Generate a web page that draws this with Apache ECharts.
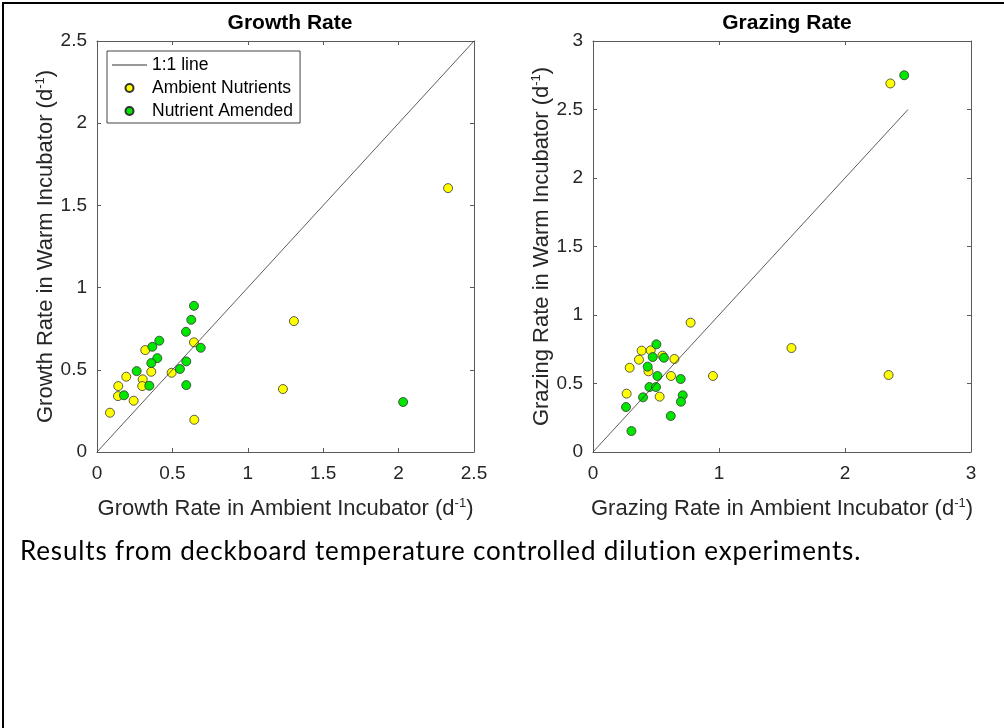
<!DOCTYPE html>
<html>
<head>
<meta charset="utf-8">
<title>Growth and grazing rates</title>
<script src="https://cdn.jsdelivr.net/npm/echarts@6/dist/echarts.min.js"></script>
<style>
  html, body { margin: 0; padding: 0; background: #fff; }
  #wrap { position: relative; width: 1004px; height: 728px; overflow: hidden; }
  #frame {
    position: absolute; left: 2px; top: 2px; width: 1100px; height: 800px;
    border-left: 2px solid #000; border-top: 2px solid #000;
  }
  #chart { position: absolute; left: 0; top: 0; width: 1004px; height: 728px; }
  #caption {
    position: absolute; left: 20px; top: 534px;
    font-family: Lato, "Open Sans", sans-serif; font-size: 26px; color: #000;
    letter-spacing: 0.85px; white-space: nowrap;
  }
</style>
</head>
<body>
<div id="wrap">
  <div id="frame"></div>
  <div id="chart"></div>
  <div id="caption">Results from deckboard temperature controlled dilution experiments.</div>
</div>
<script>
// 生长率 (left panel): [ambient incubator, warm incubator]
const growthAmbient = [
  [0.320, 0.620], [0.643, 0.667], [0.360, 0.488], [0.495, 0.482], [0.194, 0.458],
  [0.303, 0.442], [0.141, 0.401], [0.300, 0.401], [0.139, 0.340], [0.243, 0.312],
  [0.086, 0.239], [0.645, 0.196], [1.306, 0.796], [1.233, 0.383], [2.328, 1.605]
];
const growthAmended = [
  [0.643, 0.889], [0.625, 0.804], [0.590, 0.731], [0.413, 0.677], [0.367, 0.640],
  [0.688, 0.634], [0.400, 0.571], [0.360, 0.541], [0.592, 0.551], [0.263, 0.492],
  [0.550, 0.505], [0.347, 0.403], [0.592, 0.407], [0.179, 0.345], [2.030, 0.304]
];
// 摄食率 (right panel)
const grazingAmbient = [
  [0.775, 0.944], [0.386, 0.740], [0.458, 0.742], [0.551, 0.703], [0.365, 0.674],
  [0.646, 0.679], [0.291, 0.615], [0.440, 0.589], [0.619, 0.555], [0.952, 0.555],
  [0.267, 0.426], [0.529, 0.404], [1.575, 0.759], [2.346, 0.562], [2.360, 2.690]
];
const grazingAmended = [
  [0.503, 0.786], [0.474, 0.693], [0.563, 0.688], [0.434, 0.623], [0.511, 0.555],
  [0.696, 0.533], [0.448, 0.474], [0.500, 0.474], [0.397, 0.399], [0.712, 0.414],
  [0.698, 0.367], [0.262, 0.328], [0.617, 0.263], [0.305, 0.153], [2.470, 2.750]
];
const oneToOne = [[0, 0], [2.5, 2.5]];

const growthTicks = { min: 0, max: 2.5, interval: 0.5 };
const grazingTicksX = { min: 0, max: 3, interval: 1 };
const grazingTicksY = { min: 0, max: 3, interval: 0.5 };

const FONT = '"Liberation Sans", Arial, sans-serif';
const INK = '#262626';
const AXIS = '#5a5a5a';

const supRich = {
  sup: { fontSize: 13, verticalAlign: 'top', padding: [0, 0, 10, 0], color: INK, fontFamily: FONT }
};

function xAx(grid, t, name) {
  return [{
    type: 'value', gridIndex: grid, position: 'bottom',
    min: t.min, max: t.max, interval: t.interval,
    axisLine: { show: true, onZero: false, lineStyle: { color: AXIS, width: 1 } },
    axisTick: { show: true, inside: true, length: 4, lineStyle: { color: AXIS } },
    splitLine: { show: false },
    axisLabel: { color: INK, fontSize: 19, fontFamily: FONT, margin: 12 },
    name: name, nameLocation: 'middle', nameGap: 45,
    nameTextStyle: { color: INK, fontSize: 22, fontFamily: FONT, rich: supRich }
  }, {
    type: 'value', gridIndex: grid, position: 'top',
    min: t.min, max: t.max, interval: t.interval,
    axisLine: { show: true, onZero: false, lineStyle: { color: AXIS, width: 1 } },
    axisTick: { show: true, inside: true, length: 4, lineStyle: { color: AXIS } },
    axisLabel: { show: false }, splitLine: { show: false }
  }];
}

function yAx(grid, t, name) {
  return [{
    type: 'value', gridIndex: grid, position: 'left',
    min: t.min, max: t.max, interval: t.interval,
    axisLine: { show: true, onZero: false, lineStyle: { color: AXIS, width: 1 } },
    axisTick: { show: true, inside: true, length: 4, lineStyle: { color: AXIS } },
    splitLine: { show: false },
    axisLabel: { color: INK, fontSize: 19, fontFamily: FONT, margin: 10 },
    name: name, nameLocation: 'middle', nameGap: 38,
    nameTextStyle: { color: INK, fontSize: 22, fontFamily: FONT, rich: supRich }
  }, {
    type: 'value', gridIndex: grid, position: 'right',
    min: t.min, max: t.max, interval: t.interval,
    axisLine: { show: true, onZero: false, lineStyle: { color: AXIS, width: 1 } },
    axisTick: { show: true, inside: true, length: 4, lineStyle: { color: AXIS } },
    axisLabel: { show: false }, splitLine: { show: false }
  }];
}

const dot = (color) => ({
  color: color, borderColor: '#333', borderWidth: 0.8, opacity: 1
});

const chart = echarts.init(document.getElementById('chart'), null, { renderer: 'canvas' });
chart.setOption({
  animation: false,
  backgroundColor: 'transparent',
  title: [
    { text: 'Growth Rate', left: 285, top: 8, textAlign: 'center',
      textStyle: { fontSize: 21, fontWeight: 'bold', color: '#000', fontFamily: FONT } },
    { text: 'Grazing Rate', left: 782, top: 8, textAlign: 'center',
      textStyle: { fontSize: 21, fontWeight: 'bold', color: '#000', fontFamily: FONT } }
  ],
  legend: {
    left: 107, top: 51, orient: 'vertical',
    padding: [5, 7, 3, 5], itemGap: 5,
    itemWidth: 35, itemHeight: 8,
    borderColor: '#444', borderWidth: 1, backgroundColor: '#fff',
    textStyle: { fontSize: 17.5, color: '#000', fontFamily: FONT },
    data: [
      { name: '1:1 line', icon: 'path://M0 0H37V1H0Z' },
      { name: 'Ambient Nutrients', icon: 'circle' },
      { name: 'Nutrient Amended', icon: 'circle' }
    ]
  },
  grid: [
    { left: 97, top: 41, width: 377, height: 411 },
    { left: 593, top: 41, width: 378, height: 411 }
  ],
  xAxis: [].concat(
    xAx(0, growthTicks, 'Growth Rate in Ambient Incubator (d{sup|-1})'),
    xAx(1, grazingTicksX, 'Grazing Rate in Ambient Incubator (d{sup|-1})')
  ),
  yAxis: [].concat(
    yAx(0, growthTicks, 'Growth Rate in Warm Incubator (d{sup|-1})'),
    yAx(1, grazingTicksY, 'Grazing Rate in Warm Incubator (d{sup|-1})')
  ),
  series: [
    { name: '1:1 line', type: 'line', xAxisIndex: 0, yAxisIndex: 0, data: oneToOne,
      symbol: 'none', lineStyle: { color: '#333', width: 0.8 }, itemStyle: { color: '#333' } },
    { name: 'Ambient Nutrients', type: 'scatter', xAxisIndex: 0, yAxisIndex: 0,
      data: growthAmbient, symbolSize: 9, itemStyle: dot('#ffff00') },
    { name: 'Nutrient Amended', type: 'scatter', xAxisIndex: 0, yAxisIndex: 0,
      data: growthAmended, symbolSize: 9, itemStyle: dot('#00e600') },
    { name: '1:1 line', type: 'line', xAxisIndex: 2, yAxisIndex: 2, data: oneToOne,
      symbol: 'none', lineStyle: { color: '#333', width: 0.8 }, itemStyle: { color: '#333' } },
    { name: 'Ambient Nutrients', type: 'scatter', xAxisIndex: 2, yAxisIndex: 2,
      data: grazingAmbient, symbolSize: 9, itemStyle: dot('#ffff00') },
    { name: 'Nutrient Amended', type: 'scatter', xAxisIndex: 2, yAxisIndex: 2,
      data: grazingAmended, symbolSize: 9, itemStyle: dot('#00e600') }
  ]
});
</script>
</body>
</html>
